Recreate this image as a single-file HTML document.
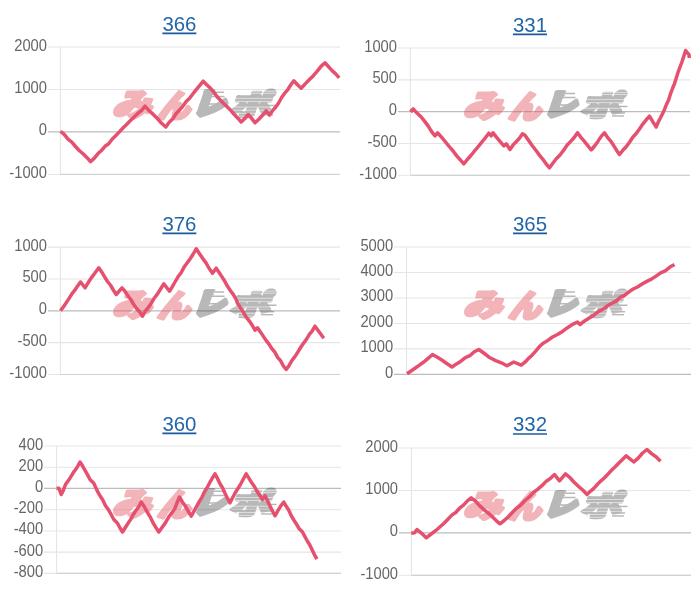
<!DOCTYPE html>
<html lang="ja"><head><meta charset="utf-8"><title>みんレポ</title>
<style>
html,body{margin:0;padding:0;background:#fff;}
body{width:700px;height:600px;overflow:hidden;font-family:"Liberation Sans","Noto Sans CJK JP",sans-serif;}
svg{display:block;filter:blur(0.35px)}
.lab{font-size:15.6px;fill:#666;text-anchor:end;font-family:"Liberation Sans",sans-serif}
.ttl{font-size:20.4px;fill:#2266a8;text-anchor:middle;font-family:"Liberation Sans",sans-serif}
.wm{font-family:"Noto Sans CJK JP","Liberation Sans",sans-serif;font-weight:900;font-size:30px}
</style></head><body>
<svg width="700" height="600" viewBox="0 0 700 600">
<defs>
<mask id="cut" maskUnits="userSpaceOnUse" x="70" y="-5" width="110" height="45"><rect x="70" y="-5" width="110" height="45" fill="#fff"/><path d="M118 2.4H170M118 4.5H170M118 9.6H170M118 12.6H170M118 18.3H170M118 21.4H170M118 24.6H170M118 27.4H170" stroke="#000" stroke-width="0.55" fill="none"/></mask>
</defs>
<g><line x1="47.90" x2="340.00" y1="47.00" y2="47.00" stroke="#e5e5e5" stroke-width="1.1"/>
<line x1="47.90" x2="340.00" y1="89.48" y2="89.48" stroke="#e5e5e5" stroke-width="1.1"/>
<line x1="47.90" x2="340.00" y1="131.97" y2="131.97" stroke="#bcbcbc" stroke-width="1.3"/>
<line x1="47.90" x2="340.00" y1="174.45" y2="174.45" stroke="#e5e5e5" stroke-width="1.1"/>
<line x1="60.40" x2="60.40" y1="47.00" y2="174.45" stroke="#e5e5e5" stroke-width="1.1"/>
<line x1="60.40" x2="340.00" y1="174.45" y2="174.45" stroke="#d2d2d2" stroke-width="1.2"/>
<text class="lab" transform="translate(47.00 50.50) scale(.945 1)">2000</text>
<text class="lab" transform="translate(47.00 92.98) scale(.945 1)">1000</text>
<text class="lab" transform="translate(47.00 135.47) scale(.945 1)">0</text>
<text class="lab" transform="translate(47.00 177.95) scale(.945 1)">-1000</text>
<g transform="translate(113 88.8)"><g opacity=".44" class="wm" fill="#e25560" stroke="#e25560" stroke-width="3.2" stroke-linejoin="round"><text transform="matrix(1.281 0 -0.331 1.034 -1 26.86)">み</text><text transform="matrix(1.082 0 -0.331 1.034 44 27.9)">ん</text></g><g opacity=".32"><g class="wm" fill="#222" stroke="#222" stroke-width="4.2" stroke-linejoin="round"><text transform="matrix(1.091 0 -0.338 0.994 79 25.4)">レ</text></g><path d="M95 1.4H102.3M95 3.4H111M94 5.5H101M93 7.6H111.6M95.9 15.1H106.6" stroke="#222" stroke-width="1.5" fill="none"/></g><g opacity=".32" mask="url(#cut)"><g class="wm" fill="#222" stroke="#222" stroke-width="3" stroke-linejoin="round"><text transform="matrix(1.352 0 -0.306 0.955 116 26.4)">ポ</text></g><path d="M137 11.2H154M152 16.6H163.5M150 19.8H158M150 23H161M148 26H160" stroke="#222" stroke-width="1.5" fill="none"/></g></g>
<polyline points="60.5,131.2 64.2,134.4 68.0,139.2 71.8,142.1 75.5,146.5 79.2,150.5 83.0,153.8 86.8,157.4 90.5,161.7 94.1,158.4 97.8,153.8 101.4,150.5 105.0,146.3 108.7,143.8 112.3,139.0 115.9,135.5 119.6,131.6 123.2,127.8 126.8,124.3 130.5,120.4 134.1,117.0 137.7,113.5 141.4,110.6 145.0,106.2 149.2,110.9 153.3,114.4 157.4,118.5 161.6,123.3 165.8,127.0 169.2,122.3 172.6,119.1 176.0,113.8 179.4,110.1 182.8,106.3 186.2,101.5 189.6,98.3 193.0,93.8 196.4,89.4 199.8,85.3 203.2,81.2 206.7,84.8 210.2,88.0 213.6,91.8 217.1,96.7 220.5,100.2 224.0,103.9 227.4,107.0 230.9,110.6 234.3,114.5 237.8,118.2 241.2,122.0 244.8,118.5 248.2,114.5 251.6,118.4 255.0,122.8 258.8,119.3 262.5,115.3 266.2,110.8 269.5,115.2 272.5,110.6 275.6,107.3 278.6,103.0 281.6,97.5 284.7,93.2 287.7,89.8 290.7,85.0 293.8,80.8 297.5,84.8 301.2,88.2 305.2,83.9 309.2,79.8 313.1,75.9 317.1,71.4 321.0,66.4 325.0,62.8 328.6,66.7 332.1,70.6 335.7,73.9 339.2,77.8" fill="none" stroke="#e6506f" stroke-width="3.5" stroke-linejoin="round" stroke-linecap="butt"/>
<a><text class="ttl" x="179.4" y="30.7">366</text></a>
<line x1="162.40" x2="196.40" y1="33.30" y2="33.30" stroke="#1c5a9c" stroke-width="1.7"/></g>
<g><line x1="397.90" x2="690.00" y1="48.00" y2="48.00" stroke="#e5e5e5" stroke-width="1.1"/>
<line x1="397.90" x2="690.00" y1="79.83" y2="79.83" stroke="#e5e5e5" stroke-width="1.1"/>
<line x1="397.90" x2="690.00" y1="111.65" y2="111.65" stroke="#bcbcbc" stroke-width="1.3"/>
<line x1="397.90" x2="690.00" y1="143.48" y2="143.48" stroke="#e5e5e5" stroke-width="1.1"/>
<line x1="397.90" x2="690.00" y1="175.30" y2="175.30" stroke="#e5e5e5" stroke-width="1.1"/>
<line x1="410.40" x2="410.40" y1="48.00" y2="175.30" stroke="#e5e5e5" stroke-width="1.1"/>
<line x1="410.40" x2="690.00" y1="175.30" y2="175.30" stroke="#d2d2d2" stroke-width="1.2"/>
<text class="lab" transform="translate(397.00 51.50) scale(.945 1)">1000</text>
<text class="lab" transform="translate(397.00 83.33) scale(.945 1)">500</text>
<text class="lab" transform="translate(397.00 115.15) scale(.945 1)">0</text>
<text class="lab" transform="translate(397.00 146.98) scale(.945 1)">-500</text>
<text class="lab" transform="translate(397.00 178.80) scale(.945 1)">-1000</text>
<g transform="translate(464 90.0)"><g opacity=".44" class="wm" fill="#e25560" stroke="#e25560" stroke-width="3.2" stroke-linejoin="round"><text transform="matrix(1.281 0 -0.331 1.034 -1 26.86)">み</text><text transform="matrix(1.082 0 -0.331 1.034 44 27.9)">ん</text></g><g opacity=".32"><g class="wm" fill="#222" stroke="#222" stroke-width="4.2" stroke-linejoin="round"><text transform="matrix(1.091 0 -0.338 0.994 79 25.4)">レ</text></g><path d="M95 1.4H102.3M95 3.4H111M94 5.5H101M93 7.6H111.6M95.9 15.1H106.6" stroke="#222" stroke-width="1.5" fill="none"/></g><g opacity=".32" mask="url(#cut)"><g class="wm" fill="#222" stroke="#222" stroke-width="3" stroke-linejoin="round"><text transform="matrix(1.352 0 -0.306 0.955 116 26.4)">ポ</text></g><path d="M137 11.2H154M152 16.6H163.5M150 19.8H158M150 23H161M148 26H160" stroke="#222" stroke-width="1.5" fill="none"/></g></g>
<polyline points="410.5,112.0 413.2,108.8 417.2,113.3 421.2,117.0 424.7,121.4 428.1,125.9 431.6,131.6 435.0,135.8 437.5,132.8 442.5,138.2 446.0,142.7 449.6,147.0 453.1,151.0 456.7,155.9 460.2,159.7 463.8,163.8 467.3,159.5 470.9,155.5 474.5,151.0 478.0,146.8 481.6,142.4 485.2,138.0 488.8,133.2 491.2,135.8 493.0,132.8 496.6,137.4 500.2,141.6 503.8,145.8 506.2,143.8 510.0,149.5 513.1,144.9 516.2,141.7 519.4,138.2 522.5,133.8 525.0,135.2 528.8,140.7 532.5,146.0 536.2,150.8 539.6,155.4 542.9,159.3 546.2,164.0 549.5,167.8 553.0,163.0 556.5,158.5 560.0,155.0 563.5,150.4 567.0,145.3 570.5,141.6 574.0,137.8 577.5,132.8 580.9,137.4 584.4,141.4 587.8,145.7 591.2,150.0 594.6,146.0 597.9,141.4 601.2,136.4 604.5,132.8 607.5,137.4 610.5,140.8 613.5,145.3 616.5,150.2 619.5,154.5 622.8,150.3 626.2,146.7 629.5,142.2 632.8,137.2 636.2,133.5 639.5,129.0 642.8,124.1 646.2,119.8 649.5,116.2 652.9,121.9 656.2,127.0 658.3,121.8 660.4,118.0 662.5,113.8 664.6,109.2 666.7,103.9 668.8,99.5 670.6,93.6 672.5,88.5 674.4,83.9 676.2,78.2 678.1,72.1 680.0,67.0 681.9,62.0 683.7,56.6 685.6,50.5 689.1,54.8 689.2,58.0" fill="none" stroke="#e6506f" stroke-width="3.5" stroke-linejoin="round" stroke-linecap="butt"/>
<a><text class="ttl" x="530" y="31.7">331</text></a>
<line x1="513.00" x2="547.00" y1="34.30" y2="34.30" stroke="#1c5a9c" stroke-width="1.7"/></g>
<g><line x1="47.90" x2="340.00" y1="247.10" y2="247.10" stroke="#e5e5e5" stroke-width="1.1"/>
<line x1="47.90" x2="340.00" y1="278.95" y2="278.95" stroke="#e5e5e5" stroke-width="1.1"/>
<line x1="47.90" x2="340.00" y1="310.80" y2="310.80" stroke="#bcbcbc" stroke-width="1.3"/>
<line x1="47.90" x2="340.00" y1="342.65" y2="342.65" stroke="#e5e5e5" stroke-width="1.1"/>
<line x1="47.90" x2="340.00" y1="374.50" y2="374.50" stroke="#e5e5e5" stroke-width="1.1"/>
<line x1="60.40" x2="60.40" y1="247.10" y2="374.50" stroke="#e5e5e5" stroke-width="1.1"/>
<line x1="60.40" x2="340.00" y1="374.50" y2="374.50" stroke="#d2d2d2" stroke-width="1.2"/>
<text class="lab" transform="translate(47.00 250.60) scale(.945 1)">1000</text>
<text class="lab" transform="translate(47.00 282.45) scale(.945 1)">500</text>
<text class="lab" transform="translate(47.00 314.30) scale(.945 1)">0</text>
<text class="lab" transform="translate(47.00 346.15) scale(.945 1)">-500</text>
<text class="lab" transform="translate(47.00 378.00) scale(.945 1)">-1000</text>
<g transform="translate(113 288.7)"><g opacity=".44" class="wm" fill="#e25560" stroke="#e25560" stroke-width="3.2" stroke-linejoin="round"><text transform="matrix(1.281 0 -0.331 1.034 -1 26.86)">み</text><text transform="matrix(1.082 0 -0.331 1.034 44 27.9)">ん</text></g><g opacity=".32"><g class="wm" fill="#222" stroke="#222" stroke-width="4.2" stroke-linejoin="round"><text transform="matrix(1.091 0 -0.338 0.994 79 25.4)">レ</text></g><path d="M95 1.4H102.3M95 3.4H111M94 5.5H101M93 7.6H111.6M95.9 15.1H106.6" stroke="#222" stroke-width="1.5" fill="none"/></g><g opacity=".32" mask="url(#cut)"><g class="wm" fill="#222" stroke="#222" stroke-width="3" stroke-linejoin="round"><text transform="matrix(1.352 0 -0.306 0.955 116 26.4)">ポ</text></g><path d="M137 11.2H154M152 16.6H163.5M150 19.8H158M150 23H161M148 26H160" stroke="#222" stroke-width="1.5" fill="none"/></g></g>
<polyline points="60.5,310.8 63.4,306.9 66.2,302.8 69.1,298.4 71.9,293.8 74.8,290.2 77.6,286.0 80.5,282.0 85.0,287.8 88.4,282.3 91.9,277.1 95.3,272.5 98.8,267.8 101.7,271.9 104.6,276.8 107.5,281.5 110.4,285.0 113.3,290.0 116.2,294.5 122.0,287.8 124.9,291.2 127.9,295.9 130.8,299.5 133.7,304.5 136.6,308.5 139.6,311.7 142.5,316.2 145.5,310.9 148.6,307.2 151.6,302.7 154.6,297.7 157.7,293.6 160.7,288.8 163.8,283.8 169.5,291.2 172.2,286.9 175.0,282.0 178.0,276.8 181.1,272.8 184.1,267.1 187.1,262.9 190.2,258.7 193.2,254.0 196.2,248.8 199.5,253.8 202.8,258.6 206.0,262.9 209.2,268.5 212.5,273.2 216.2,268.2 219.1,272.5 222.0,276.9 224.8,281.3 227.7,286.6 230.5,290.7 233.4,294.6 236.2,299.5 237.5,303.2 240.4,307.6 243.3,312.1 246.2,317.2 249.2,320.8 252.1,325.1 255.0,330.2 257.5,327.8 260.4,331.9 263.2,336.1 266.1,340.4 269.0,344.1 271.9,348.7 274.8,352.2 277.6,357.4 280.5,360.7 283.4,366.0 286.2,369.5 289.1,365.4 292.0,360.3 294.9,356.6 297.8,352.2 300.6,347.5 303.5,343.3 306.4,339.4 309.2,334.7 312.1,331.1 315.0,326.2 319.4,332.3 323.8,338.2" fill="none" stroke="#e6506f" stroke-width="3.5" stroke-linejoin="round" stroke-linecap="butt"/>
<a><text class="ttl" x="179.4" y="230.7">376</text></a>
<line x1="162.40" x2="196.40" y1="233.30" y2="233.30" stroke="#1c5a9c" stroke-width="1.7"/></g>
<g><line x1="394.05" x2="691.00" y1="247.00" y2="247.00" stroke="#e5e5e5" stroke-width="1.1"/>
<line x1="394.05" x2="691.00" y1="272.48" y2="272.48" stroke="#e5e5e5" stroke-width="1.1"/>
<line x1="394.05" x2="691.00" y1="297.96" y2="297.96" stroke="#e5e5e5" stroke-width="1.1"/>
<line x1="394.05" x2="691.00" y1="323.44" y2="323.44" stroke="#e5e5e5" stroke-width="1.1"/>
<line x1="394.05" x2="691.00" y1="348.92" y2="348.92" stroke="#e5e5e5" stroke-width="1.1"/>
<line x1="394.05" x2="691.00" y1="374.40" y2="374.40" stroke="#bcbcbc" stroke-width="1.3"/>
<line x1="406.55" x2="406.55" y1="247.00" y2="374.40" stroke="#e5e5e5" stroke-width="1.1"/>
<text class="lab" transform="translate(393.15 250.50) scale(.945 1)">5000</text>
<text class="lab" transform="translate(393.15 275.98) scale(.945 1)">4000</text>
<text class="lab" transform="translate(393.15 301.46) scale(.945 1)">3000</text>
<text class="lab" transform="translate(393.15 326.94) scale(.945 1)">2000</text>
<text class="lab" transform="translate(393.15 352.42) scale(.945 1)">1000</text>
<text class="lab" transform="translate(393.15 377.90) scale(.945 1)">0</text>
<g transform="translate(464 288.7)"><g opacity=".44" class="wm" fill="#e25560" stroke="#e25560" stroke-width="3.2" stroke-linejoin="round"><text transform="matrix(1.281 0 -0.331 1.034 -1 26.86)">み</text><text transform="matrix(1.082 0 -0.331 1.034 44 27.9)">ん</text></g><g opacity=".32"><g class="wm" fill="#222" stroke="#222" stroke-width="4.2" stroke-linejoin="round"><text transform="matrix(1.091 0 -0.338 0.994 79 25.4)">レ</text></g><path d="M95 1.4H102.3M95 3.4H111M94 5.5H101M93 7.6H111.6M95.9 15.1H106.6" stroke="#222" stroke-width="1.5" fill="none"/></g><g opacity=".32" mask="url(#cut)"><g class="wm" fill="#222" stroke="#222" stroke-width="3" stroke-linejoin="round"><text transform="matrix(1.352 0 -0.306 0.955 116 26.4)">ポ</text></g><path d="M137 11.2H154M152 16.6H163.5M150 19.8H158M150 23H161M148 26H160" stroke="#222" stroke-width="1.5" fill="none"/></g></g>
<polyline points="407.0,373.8 415.0,368.2 419.4,365.1 423.8,362.0 428.1,358.3 432.5,354.5 437.4,357.3 442.2,360.3 447.1,363.7 452.0,367.0 456.5,363.9 460.9,361.2 465.4,357.6 469.8,355.7 474.3,351.7 478.8,349.5 484.4,353.5 490.0,357.8 495.7,360.6 501.3,362.8 507.0,365.8 513.8,362.0 521.2,365.2 525.0,362.2 528.5,358.4 532.0,355.2 535.5,351.3 539.0,347.1 542.5,343.8 547.5,340.6 552.5,337.0 557.5,334.5 562.5,331.4 567.5,327.7 572.5,324.4 577.5,322.0 580.0,324.5 584.6,320.9 589.2,318.0 593.8,315.2 598.3,311.6 602.9,309.3 607.5,305.8 611.8,303.2 616.1,301.1 620.4,297.2 624.6,295.4 628.9,291.9 633.2,289.0 637.5,287.0 642.1,284.0 646.8,281.4 651.4,279.1 656.0,276.1 660.6,272.9 665.2,270.8 669.9,267.1 674.5,264.5" fill="none" stroke="#e6506f" stroke-width="3.5" stroke-linejoin="round" stroke-linecap="butt"/>
<a><text class="ttl" x="530" y="230.7">365</text></a>
<line x1="513.00" x2="547.00" y1="233.30" y2="233.30" stroke="#1c5a9c" stroke-width="1.7"/></g>
<g><line x1="44.05" x2="341.00" y1="446.00" y2="446.00" stroke="#e5e5e5" stroke-width="1.1"/>
<line x1="44.05" x2="341.00" y1="467.23" y2="467.23" stroke="#e5e5e5" stroke-width="1.1"/>
<line x1="44.05" x2="341.00" y1="488.47" y2="488.47" stroke="#bcbcbc" stroke-width="1.3"/>
<line x1="44.05" x2="341.00" y1="509.70" y2="509.70" stroke="#e5e5e5" stroke-width="1.1"/>
<line x1="44.05" x2="341.00" y1="530.93" y2="530.93" stroke="#e5e5e5" stroke-width="1.1"/>
<line x1="44.05" x2="341.00" y1="552.17" y2="552.17" stroke="#e5e5e5" stroke-width="1.1"/>
<line x1="44.05" x2="341.00" y1="573.40" y2="573.40" stroke="#e5e5e5" stroke-width="1.1"/>
<line x1="56.55" x2="56.55" y1="446.00" y2="573.40" stroke="#e5e5e5" stroke-width="1.1"/>
<line x1="56.55" x2="341.00" y1="573.40" y2="573.40" stroke="#d2d2d2" stroke-width="1.2"/>
<text class="lab" transform="translate(43.15 449.50) scale(.945 1)">400</text>
<text class="lab" transform="translate(43.15 470.73) scale(.945 1)">200</text>
<text class="lab" transform="translate(43.15 491.97) scale(.945 1)">0</text>
<text class="lab" transform="translate(43.15 513.20) scale(.945 1)">-200</text>
<text class="lab" transform="translate(43.15 534.43) scale(.945 1)">-400</text>
<text class="lab" transform="translate(43.15 555.67) scale(.945 1)">-600</text>
<text class="lab" transform="translate(43.15 576.90) scale(.945 1)">-800</text>
<g transform="translate(113 487.9)"><g opacity=".44" class="wm" fill="#e25560" stroke="#e25560" stroke-width="3.2" stroke-linejoin="round"><text transform="matrix(1.281 0 -0.331 1.034 -1 26.86)">み</text><text transform="matrix(1.082 0 -0.331 1.034 44 27.9)">ん</text></g><g opacity=".32"><g class="wm" fill="#222" stroke="#222" stroke-width="4.2" stroke-linejoin="round"><text transform="matrix(1.091 0 -0.338 0.994 79 25.4)">レ</text></g><path d="M95 1.4H102.3M95 3.4H111M94 5.5H101M93 7.6H111.6M95.9 15.1H106.6" stroke="#222" stroke-width="1.5" fill="none"/></g><g opacity=".32" mask="url(#cut)"><g class="wm" fill="#222" stroke="#222" stroke-width="3" stroke-linejoin="round"><text transform="matrix(1.352 0 -0.306 0.955 116 26.4)">ポ</text></g><path d="M137 11.2H154M152 16.6H163.5M150 19.8H158M150 23H161M148 26H160" stroke="#222" stroke-width="1.5" fill="none"/></g></g>
<polyline points="56.5,488.2 58.8,488.2 61.2,494.5 63.4,490.1 65.5,484.5 70.0,478.2 73.3,472.6 76.7,468.0 80.0,462.0 82.5,465.8 85.0,470.3 87.5,474.6 90.0,479.5 93.8,483.2 96.9,490.1 100.0,495.8 102.8,499.9 105.5,505.7 108.2,509.4 111.0,514.2 113.8,519.5 117.5,523.2 120.0,528.0 122.5,532.0 125.2,527.7 127.9,523.5 130.5,519.6 133.2,514.7 135.9,510.5 138.6,507.0 141.2,502.0 144.2,506.5 147.1,511.8 150.0,516.6 152.9,522.5 155.8,527.4 158.8,532.0 162.0,527.5 165.2,523.1 168.5,517.3 171.8,512.9 175.0,508.2 177.2,502.3 179.5,497.0 182.4,502.0 185.4,506.1 188.3,511.5 191.2,516.2 193.9,511.3 196.5,506.6 199.2,501.6 201.8,497.6 204.4,492.1 207.1,487.8 209.7,482.7 212.4,478.0 215.0,473.8 217.5,478.4 220.0,483.8 222.5,487.8 225.0,493.3 227.5,498.4 230.0,502.8 232.7,497.5 235.4,492.5 238.1,488.2 240.8,483.8 243.5,478.7 246.2,473.8 249.0,478.4 251.7,482.7 254.4,486.6 257.1,491.3 259.8,495.6 262.5,499.5 265.0,495.8 267.5,500.7 270.0,506.1 272.5,511.0 275.0,515.8 277.9,510.7 280.8,505.9 283.8,502.0 286.2,506.3 288.8,510.2 291.2,515.6 293.8,520.0 296.2,523.7 298.8,528.2 302.5,532.0 304.9,536.6 307.3,541.0 309.8,545.0 312.2,550.0 314.6,555.1 317.0,559.0" fill="none" stroke="#e6506f" stroke-width="3.5" stroke-linejoin="round" stroke-linecap="butt"/>
<a><text class="ttl" x="179.4" y="430.7">360</text></a>
<line x1="162.40" x2="196.40" y1="433.30" y2="433.30" stroke="#1c5a9c" stroke-width="1.7"/></g>
<g><line x1="398.95" x2="691.00" y1="448.00" y2="448.00" stroke="#e5e5e5" stroke-width="1.1"/>
<line x1="398.95" x2="691.00" y1="490.43" y2="490.43" stroke="#e5e5e5" stroke-width="1.1"/>
<line x1="398.95" x2="691.00" y1="532.87" y2="532.87" stroke="#bcbcbc" stroke-width="1.3"/>
<line x1="398.95" x2="691.00" y1="575.30" y2="575.30" stroke="#e5e5e5" stroke-width="1.1"/>
<line x1="411.45" x2="411.45" y1="448.00" y2="575.30" stroke="#e5e5e5" stroke-width="1.1"/>
<line x1="411.45" x2="691.00" y1="575.30" y2="575.30" stroke="#d2d2d2" stroke-width="1.2"/>
<text class="lab" transform="translate(398.05 451.50) scale(.945 1)">2000</text>
<text class="lab" transform="translate(398.05 493.93) scale(.945 1)">1000</text>
<text class="lab" transform="translate(398.05 536.37) scale(.945 1)">0</text>
<text class="lab" transform="translate(398.05 578.80) scale(.945 1)">-1000</text>
<g transform="translate(464 489.9)"><g opacity=".44" class="wm" fill="#e25560" stroke="#e25560" stroke-width="3.2" stroke-linejoin="round"><text transform="matrix(1.281 0 -0.331 1.034 -1 26.86)">み</text><text transform="matrix(1.082 0 -0.331 1.034 44 27.9)">ん</text></g><g opacity=".32"><g class="wm" fill="#222" stroke="#222" stroke-width="4.2" stroke-linejoin="round"><text transform="matrix(1.091 0 -0.338 0.994 79 25.4)">レ</text></g><path d="M95 1.4H102.3M95 3.4H111M94 5.5H101M93 7.6H111.6M95.9 15.1H106.6" stroke="#222" stroke-width="1.5" fill="none"/></g><g opacity=".32" mask="url(#cut)"><g class="wm" fill="#222" stroke="#222" stroke-width="3" stroke-linejoin="round"><text transform="matrix(1.352 0 -0.306 0.955 116 26.4)">ポ</text></g><path d="M137 11.2H154M152 16.6H163.5M150 19.8H158M150 23H161M148 26H160" stroke="#222" stroke-width="1.5" fill="none"/></g></g>
<polyline points="411.2,533.2 414.5,532.8 417.0,529.5 421.6,533.3 426.2,537.8 431.2,534.0 436.2,530.2 440.1,526.8 444.0,523.3 447.9,519.3 451.8,515.1 455.7,512.5 459.6,508.2 463.5,505.1 467.4,500.9 471.2,497.8 475.4,501.0 479.5,505.6 483.6,509.4 487.7,512.6 491.8,516.2 495.9,520.3 500.0,523.8 504.2,520.5 508.3,516.7 512.5,512.2 516.7,508.1 520.8,505.0 525.0,500.5 529.2,497.0 533.4,492.5 537.6,489.4 541.9,485.7 546.1,481.4 550.3,478.5 554.5,474.5 559.5,480.8 565.5,473.8 569.8,477.5 574.1,482.2 578.4,486.3 582.7,490.0 587.0,494.5 590.6,491.1 594.1,488.1 597.7,484.0 601.3,480.6 604.8,477.5 608.4,473.6 612.0,469.7 615.5,466.5 619.1,462.7 622.7,459.2 626.2,455.8 633.8,462.0 638.2,458.1 642.6,453.0 647.0,449.5 651.5,453.6 656.0,456.8 660.5,461.2" fill="none" stroke="#e6506f" stroke-width="3.5" stroke-linejoin="round" stroke-linecap="butt"/>
<a><text class="ttl" x="530" y="431.4">332</text></a>
<line x1="513.00" x2="547.00" y1="434.00" y2="434.00" stroke="#1c5a9c" stroke-width="1.7"/></g>
</svg>
</body></html>
